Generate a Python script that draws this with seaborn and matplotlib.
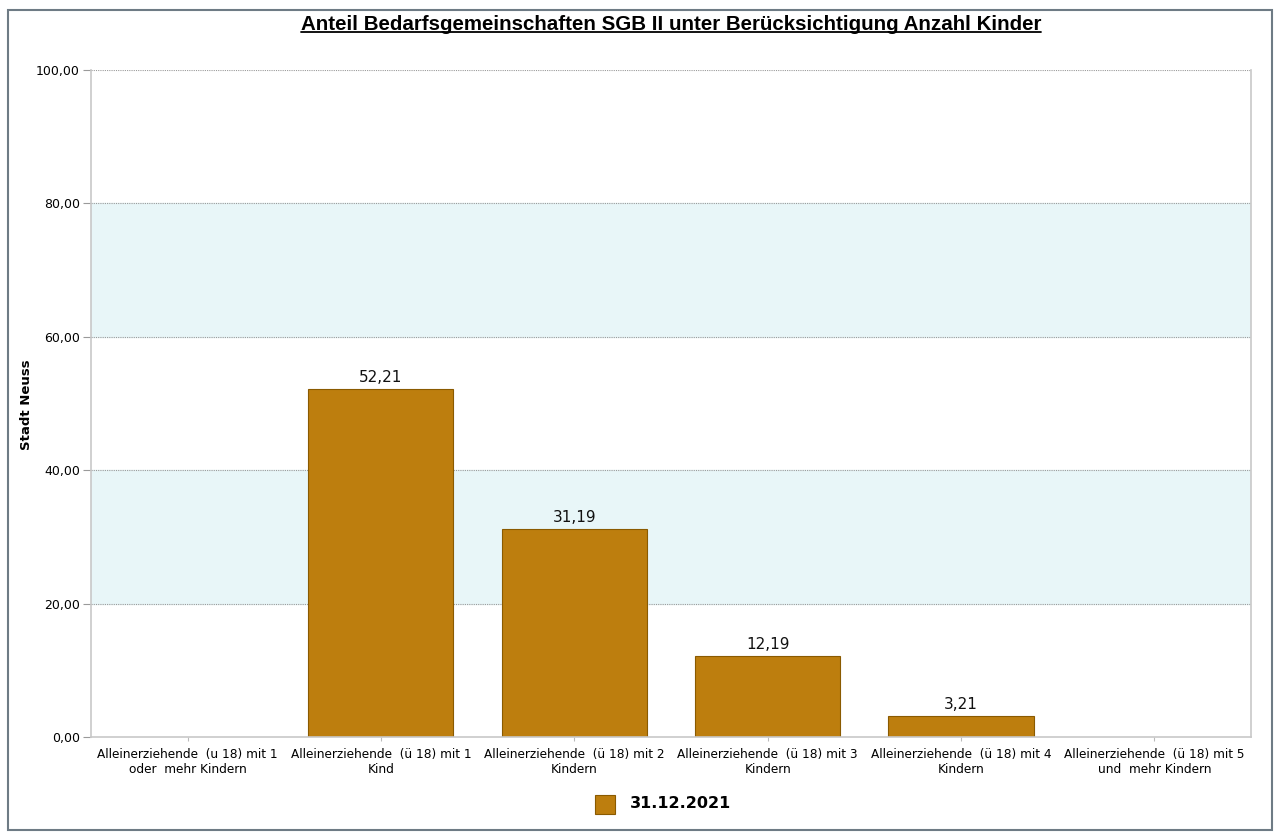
import numpy as np
import pandas as pd
import matplotlib
matplotlib.use("Agg")
import matplotlib.pyplot as plt
import seaborn as sns
from matplotlib.patches import Rectangle
from matplotlib.lines import Line2D

# Daten
kategorien = [
    "Alleinerziehende  (u 18) mit 1\noder  mehr Kindern",
    "Alleinerziehende  (ü 18) mit 1\nKind",
    "Alleinerziehende  (ü 18) mit 2\nKindern",
    "Alleinerziehende  (ü 18) mit 3\nKindern",
    "Alleinerziehende  (ü 18) mit 4\nKindern",
    "Alleinerziehende  (ü 18) mit 5\nund  mehr Kindern",
]
werte = [np.nan, 52.21, 31.19, 12.19, 3.21, np.nan]
y_ticks = [0, 20, 40, 60, 80, 100]
serie = "31.12.2021"
titel = "Anteil Bedarfsgemeinschaften SGB II unter Berücksichtigung Anzahl Kinder"

df = pd.DataFrame({"kategorie": kategorien, "wert": werte})

sns.set_style("white")
plt.rcParams["font.family"] = ["DejaVu Sans"]
plt.rcParams["text.color"] = "black"
plt.rcParams["xtick.color"] = "black"
plt.rcParams["ytick.color"] = "black"
plt.rcParams["axes.labelcolor"] = "black"

fig = plt.figure(figsize=(12.75, 8.32), dpi=100)
ax = fig.add_axes([91 / 1275, 1 - 737 / 832, 1160 / 1275, 667 / 832])

bar_farbe = "#bd7e0e"
sns.barplot(data=df, x="kategorie", y="wert", order=kategorien, color=bar_farbe,
            saturation=1, width=0.75, edgecolor="#8a5a00", linewidth=0.8, ax=ax)

ax.set_ylim(0, 100)
ax.set_xlim(-0.5, len(kategorien) - 0.5)

# Hintergrundbänder
for lo, hi in [(20, 40), (60, 80)]:
    ax.axhspan(lo, hi, color="#e8f6f8", zorder=0)
for t in y_ticks[1:]:
    ax.axhline(t, color="#9a9a9a", linestyle=(0, (1, 1)), linewidth=0.8, zorder=0.5)

ax.set_yticks(y_ticks)
ax.set_yticklabels([f"{t:.2f}".replace(".", ",") for t in y_ticks], fontsize=9)
ax.tick_params(axis="y", length=6, color="#9a9a9a", pad=2, left=True)
ax.tick_params(axis="x", length=3, color="#bbbbbb", labelsize=8.7, pad=5, bottom=True)
ax.set_xlabel("")
ax.set_ylabel("Stadt Neuss", fontsize=9.5, fontweight="bold")
ax.yaxis.set_label_coords((33 - 91) / 1160, (737 - 405) / 667)

for side in ["left", "right", "bottom"]:
    ax.spines[side].set_color("#c8c8c8")
    ax.spines[side].set_linewidth(1.2)
ax.spines["top"].set_visible(False)

# Werte über den Balken
for i, v in enumerate(werte):
    if not np.isnan(v):
        ax.text(i, v + 0.6, f"{v:.2f}".replace(".", ","), ha="center", va="bottom",
                fontsize=11, color="#111111")

# Titel mit Unterstreichung
t = fig.text(671 / 1275, 1 - 25 / 832, titel, ha="center", va="center",
             fontsize=14.8, fontweight="bold", family="Liberation Sans")
fig.canvas.draw()
bb = t.get_window_extent().transformed(fig.transFigure.inverted())
fig.add_artist(Line2D([bb.x0, bb.x1], [bb.y0 + 0.003, bb.y0 + 0.003],
                      transform=fig.transFigure, color="black", linewidth=1.3))

# Legende
fig.add_artist(Rectangle((595 / 1275, 1 - 814 / 832), 20 / 1275, 19 / 832,
                         transform=fig.transFigure, facecolor=bar_farbe,
                         edgecolor="#8a5a00", linewidth=0.8))
fig.text(630 / 1275, 1 - 804 / 832, serie, ha="left", va="center",
         fontsize=11.5, fontweight="bold")

# Rahmen
fig.add_artist(Rectangle((8 / 1275, 2 / 832), 1264 / 1275, 820 / 832,
                         transform=fig.transFigure, fill=False,
                         edgecolor="#6e7b85", linewidth=1.5))

fig.savefig("out.png", dpi=100)
